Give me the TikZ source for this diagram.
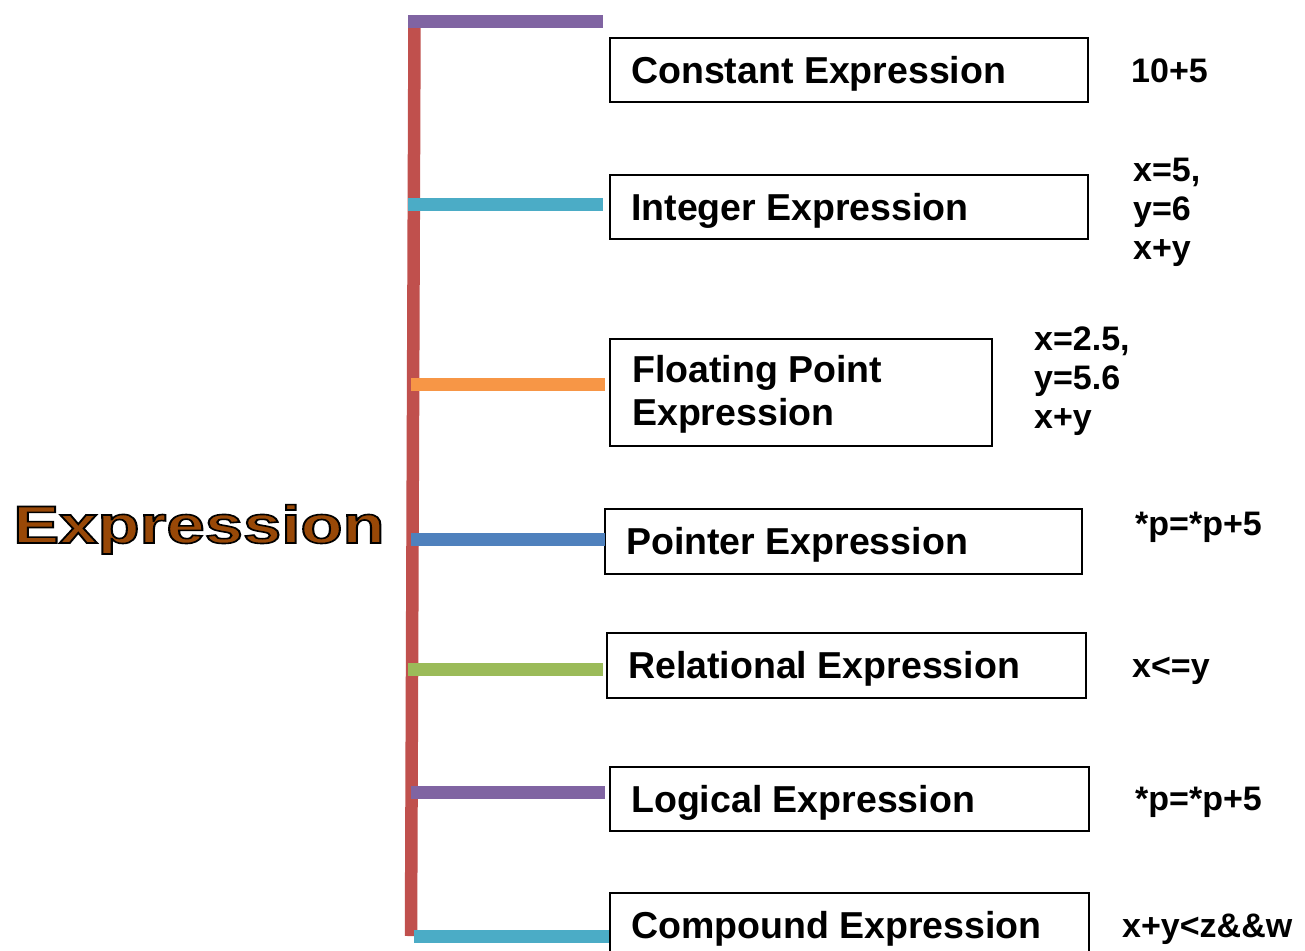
\documentclass[tikz,border=0pt]{standalone}
\usepackage{fontspec}
\setmainfont{Liberation Sans}
% outlined heading face: glyphs filled and stroked
\newfontfamily\headingface{Liberation Sans Bold}[FakeBold=3]
\definecolor{spine}{HTML}{C0504D}
\definecolor{cPurple}{HTML}{8064A2}
\definecolor{cCyan}{HTML}{4BACC6}
\definecolor{cOrange}{HTML}{F79646}
\definecolor{cBlue}{HTML}{4F81BD}
\definecolor{cGreen}{HTML}{9BBB59}
\definecolor{cBrown}{HTML}{984807}
\tikzset{
  branch/.style={line width=13pt},
  kindbox/.style={draw=black, line width=1.8pt, anchor=north west, inner sep=0pt},
  kindtext/.style={anchor=base west, align=left, inner sep=0pt,
    font=\fontsize{37.5}{43}\bfseries\selectfont},
  sample/.style={anchor=base west, align=left, inner sep=0pt,
    font=\fontsize{34}{39}\bfseries\selectfont},
}
\begin{document}
\begin{tikzpicture}[x=1pt,y=-1pt]
\useasboundingbox (0,0) rectangle (1305,950);

% title, stretched wide: black stroke, brown fill
\node[anchor=base west, inner sep=0pt, xscale=1.3, transform shape,
  font=\headingface\fontsize{53}{53}\selectfont] (title) at (13,543)
  {\color{black}\special{pdf:code 0.596 0.282 0.027 rg}Expression};

% expression kinds: frames
\node[kindbox, minimum width=478pt, minimum height=64pt] (const) at (609,37) {};
\node[kindbox, minimum width=478pt, minimum height=64pt] (int) at (609,174) {};
\node[kindbox, minimum width=382pt, minimum height=107pt] (float) at (609,338) {};
\node[kindbox, minimum width=477pt, minimum height=65pt] (ptr) at (604,508) {};
\node[kindbox, minimum width=479pt, minimum height=65pt] (rel) at (606,632) {};
\node[kindbox, minimum width=479pt, minimum height=64pt] (logic) at (609,766) {};
\node[kindbox, minimum width=479pt, minimum height=70pt] (comp) at (609,892) {};

% expression kinds: names
\node[kindtext] (constT) at (631,83) {Constant Expression};
\node[kindtext] (intT) at (631,220) {Integer Expression};
\node[kindtext] (floatT) at (632,425) {Floating Point\\Expression};
\node[kindtext] (ptrT) at (626,554) {Pointer Expression};
\node[kindtext] (relT) at (628,678) {Relational Expression};
\node[kindtext] (logicT) at (631,812) {Logical Expression};
\node[kindtext] (compT) at (631,938) {Compound Expression};

% examples
\node[sample] (sConst) at (1131,82) {10+5};
\node[sample, anchor=north west] (sInt) at (1133,158) {x=5,\\y=6\\x+y};
\node[sample, anchor=north west] (sFloat) at (1034,327) {x=2.5,\\y=5.6\\x+y};
\node[sample] (sPtr) at (1135,535) {*p=*p+5};
\node[sample] (sRel) at (1132,677) {x<=y};
\node[sample] (sLogic) at (1135,810) {*p=*p+5};
\node[sample] (sComp) at (1122,937) {x+y<z\&\&w};

% spine and branches
\coordinate (spineTop) at (414.5,22);
\coordinate (spineBot) at (411,936);
\draw[spine, line width=12.5pt] (spineTop) -- (spineBot);
\draw[branch, cPurple] (408,21.5) -- (603,21.5);
\draw[branch, cCyan]   (408,204) -- (603,204);
\draw[branch, cOrange] (411,384.5) -- (605,384.5);
\draw[branch, cBlue]   (411,539) -- (605,539);
\draw[branch, cGreen]  (408,669.5) -- (603,669.5);
\draw[branch, cPurple] (411,792.5) -- (605,792.5);
\draw[branch, cCyan]   (414,936.5) -- (comp.west |- 0,936.5);
\end{tikzpicture}
\end{document}
